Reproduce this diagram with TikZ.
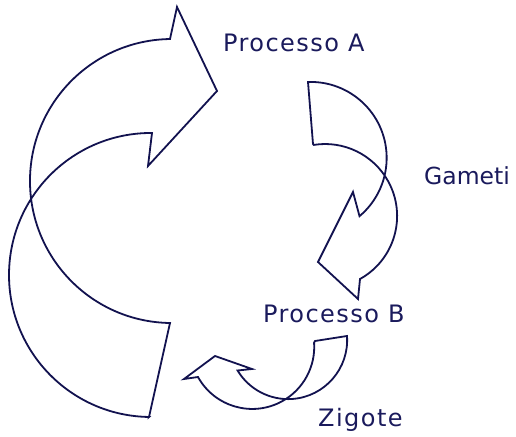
\documentclass[tikz,border=0pt]{standalone}
\usepackage{fontspec}
\setmainfont{DejaVu Sans}
\usepackage{xcolor}
\definecolor{navy}{HTML}{12124F}
\definecolor{navytext}{HTML}{1A1A5C}

\begin{document}
\begin{tikzpicture}[x=1bp,y=1bp,
  arr/.style={draw=navy,line width=1.8bp,line join=miter},
  lbl/.style={anchor=base west,inner sep=0pt,text=navytext,font=\fontsize{24bp}{28bp}\selectfont\addfontfeature{LetterSpace=6}},
  tight/.style={font=\fontsize{23.5bp}{28bp}\selectfont}]
\useasboundingbox (0,0) rectangle (516,437);
% big arrow, upper left
\draw[arr] (149,20) -- (170,114) arc[start angle=-90.8,end angle=-269.2,radius=142bp]
  -- (177,430) -- (217,346) -- (148,271) -- (152,304)
  arc[start angle=89.6,end angle=269.2,radius=142bp] -- cycle;
% arrow on the right
\draw[arr] (313,293) -- (308,355) arc[start angle=92,end angle=-50,radius=76bp]
  -- (353,245) -- (318,175) -- (358,138) -- (360,158)
  arc[start angle=-61,end angle=99,radius=72bp] -- cycle;
% small arrow at the bottom
\draw[arr] (315,96) -- (347,101) arc[start angle=4,end angle=-149,radius=59bp]
  -- (252,68) -- (215,81) -- (184,58) -- (198,60)
  arc[start angle=-151,end angle=4,radius=62bp] -- cycle;
\node[lbl] (pa) at (223,385) {Processo A};
\node[lbl,tight] (gam) at (424,252) {Gameti};
\node[lbl] (pb) at (263,114) {Processo B};
\node[lbl] (zig) at (318,10) {Zigote};
\end{tikzpicture}
\end{document}
